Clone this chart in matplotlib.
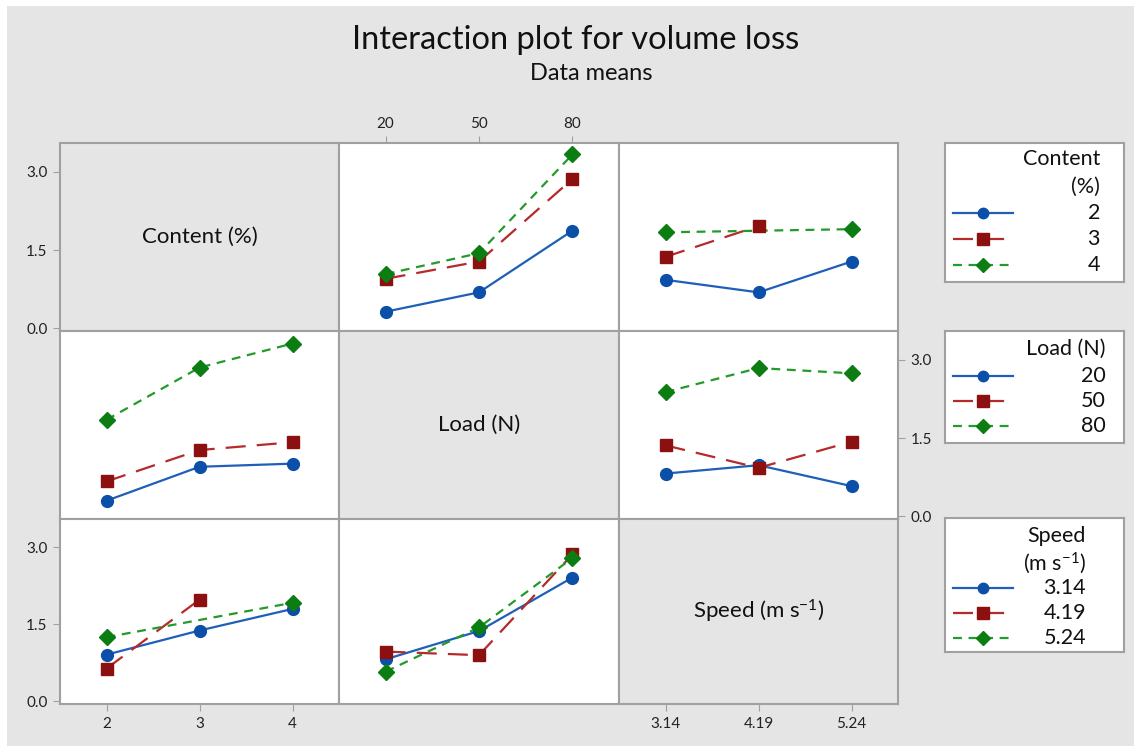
import numpy as np
import matplotlib
matplotlib.use("Agg")
import matplotlib.pyplot as plt
from matplotlib.patches import Rectangle

plt.rcParams['font.family'] = ['Lato', 'DejaVu Sans']
plt.rcParams['mathtext.fontset'] = 'custom'
plt.rcParams['mathtext.rm'] = 'Lato'
plt.rcParams['mathtext.it'] = 'Lato:italic'

nan = np.nan

# factor levels
content_levels = ['2', '3', '4']
load_levels = ['20', '50', '80']
speed_levels = ['3.14', '4.19', '5.24']

# volume loss data means: rows = trace factor levels, cols = x factor levels
content_by_load = [[0.32, 0.69, 1.87],
                   [0.95, 1.28, 2.86],
                   [1.04, 1.44, 3.33]]
content_by_speed = [[0.93, 0.69, 1.28],
                    [1.37, 1.96, nan],
                    [1.84, nan, 1.90]]
load_by_content = [[0.30, 0.95, 1.01],
                   [0.67, 1.27, 1.42],
                   [1.85, 2.85, 3.31]]
load_by_speed = [[0.82, 0.98, 0.58],
                 [1.36, 0.93, 1.43],
                 [2.38, 2.84, 2.74]]
speed_by_content = [[0.91, 1.38, 1.80],
                    [0.64, 1.98, nan],
                    [1.25, nan, 1.92]]
speed_by_load = [[0.82, 1.37, 2.41],
                 [0.97, 0.90, 2.86],
                 [0.58, 1.44, 2.79]]

y_ticks = [0.0, 1.5, 3.0]
y_ticklabels = ['0.0', '1.5', '3.0']

# styles for the three traces
line_cols = ['#1f5fb8', '#b52a2a', '#239a2a']
mark_cols = ['#0b4fa8', '#8c1010', '#0b7d12']
markers = ['o', 's', 'D']
msizes = [8.5, 9, 8.5]
dashes = ['-', (0, (9, 5)), (0, (4, 3))]

W, H = 1134, 746
fig = plt.figure(figsize=(W / 100, H / 100), dpi=100, facecolor='white')
fig.patches.append(Rectangle((7 / W, 0), 1, 1 - 6 / H, transform=fig.transFigure,
                             facecolor='#e5e5e5', edgecolor='none', zorder=-10))

xs = [60, 339, 619, 898]
ys = [143, 331, 519, 704]
edge = '#a0a0a0'
tick_col = '#222222'


def make_ax(r, c, face='white'):
    l, rr = xs[c], xs[c + 1]
    t, b = ys[r], ys[r + 1]
    ax = fig.add_axes([l / W, 1 - b / H, (rr - l) / W, (b - t) / H], facecolor=face)
    ax.set_xlim(-0.5, 2.5)
    ax.set_ylim(-0.05, 3.55)
    for s in ax.spines.values():
        s.set_color(edge)
        s.set_linewidth(1.5)
    ax.tick_params(length=5, color=edge, labelsize=11, labelcolor=tick_col, pad=4,
                   bottom=False, left=False, labelbottom=False, labelleft=False)
    return ax


def draw(ax, table):
    for i, row in enumerate(table):
        vals = np.array(row, dtype=float)
        ok = ~np.isnan(vals)
        xpos = np.arange(3)[ok]
        ax.plot(xpos, vals[ok], color=line_cols[i], linestyle=dashes[i], lw=1.6, zorder=2)
    for i, row in enumerate(table):
        vals = np.array(row, dtype=float)
        ok = ~np.isnan(vals)
        xpos = np.arange(3)[ok]
        ax.plot(xpos, vals[ok], linestyle='none', marker=markers[i], ms=msizes[i],
                color=mark_cols[i], zorder=3 + i)


panels = {
    (0, 1): content_by_load, (0, 2): content_by_speed,
    (1, 0): load_by_content, (1, 2): load_by_speed,
    (2, 0): speed_by_content, (2, 1): speed_by_load,
}
diag = ['Content (%)', 'Load (N)', 'Speed (m s$^{-1}$)']

axes = {}
for r in range(3):
    for c in range(3):
        if r == c:
            ax = make_ax(r, c, face='#e5e5e5')
            ax.text(0.5, 0.5, diag[r], transform=ax.transAxes, ha='center', va='center',
                    fontsize=16, color='#111111')
        else:
            ax = make_ax(r, c)
            draw(ax, panels[(r, c)])
        axes[(r, c)] = ax

# y axes
for r in (0, 2):
    ax = axes[(r, 0)]
    ax.set_yticks(y_ticks)
    ax.set_yticklabels(y_ticklabels)
    ax.tick_params(left=True, labelleft=True)
ax = axes[(1, 2)]
ax.set_yticks(y_ticks)
ax.set_yticklabels(y_ticklabels)
ax.tick_params(right=True, labelright=True)

# x axes
ax = axes[(0, 1)]
ax.set_xticks(range(3))
ax.set_xticklabels(load_levels)
ax.tick_params(top=True, labeltop=True)
ax = axes[(2, 0)]
ax.set_xticks(range(3))
ax.set_xticklabels(content_levels)
ax.tick_params(bottom=True, labelbottom=True)
ax = axes[(2, 2)]
ax.set_xticks(range(3))
ax.set_xticklabels(speed_levels)
ax.tick_params(bottom=True, labelbottom=True)

# titles
fig.text(576 / W, 1 - 40 / H, 'Interaction plot for volume loss', ha='center', va='center',
         fontsize=23.5, color='#111111')
fig.text(591 / W, 1 - 73 / H, 'Data means', ha='center', va='center',
         fontsize=17, color='#111111')


# legend boxes
def legend_box(top, bottom, title_lines, title_ys, labels, label_ys, right):
    lx0, lx1 = 945, 1124
    lax = fig.add_axes([lx0 / W, 1 - bottom / H, (lx1 - lx0) / W, (bottom - top) / H],
                       facecolor='white')
    lax.set_xlim(lx0, lx1)
    lax.set_ylim(bottom, top)
    lax.set_xticks([])
    lax.set_yticks([])
    for s in lax.spines.values():
        s.set_color(edge)
        s.set_linewidth(1.5)
    for t, ty in zip(title_lines, title_ys):
        lax.text(right, ty, t, ha='right', va='center', fontsize=15.5, color='#111111')
    for i, (lab, ly) in enumerate(zip(labels, label_ys)):
        lax.plot([953, 1013], [ly, ly], color=line_cols[i], linestyle=dashes[i], lw=1.6)
        lax.plot([983], [ly], marker=markers[i], ms=msizes[i] - 1, color=mark_cols[i],
                 linestyle='none')
        lax.text(right, ly, lab, ha='right', va='center', fontsize=15.5, color='#111111')


legend_box(143, 282, ['Content', '(%)'], [159, 187], content_levels, [213, 239, 265], 1100)
legend_box(331, 443, ['Load (N)'], [349], load_levels, [376, 401, 426], 1106)
legend_box(518, 652, ['Speed', '(m s$^{-1}$)'], [536, 563], speed_levels, [588, 613, 638], 1086)

fig.savefig('out.png', dpi=100, facecolor=fig.get_facecolor())
